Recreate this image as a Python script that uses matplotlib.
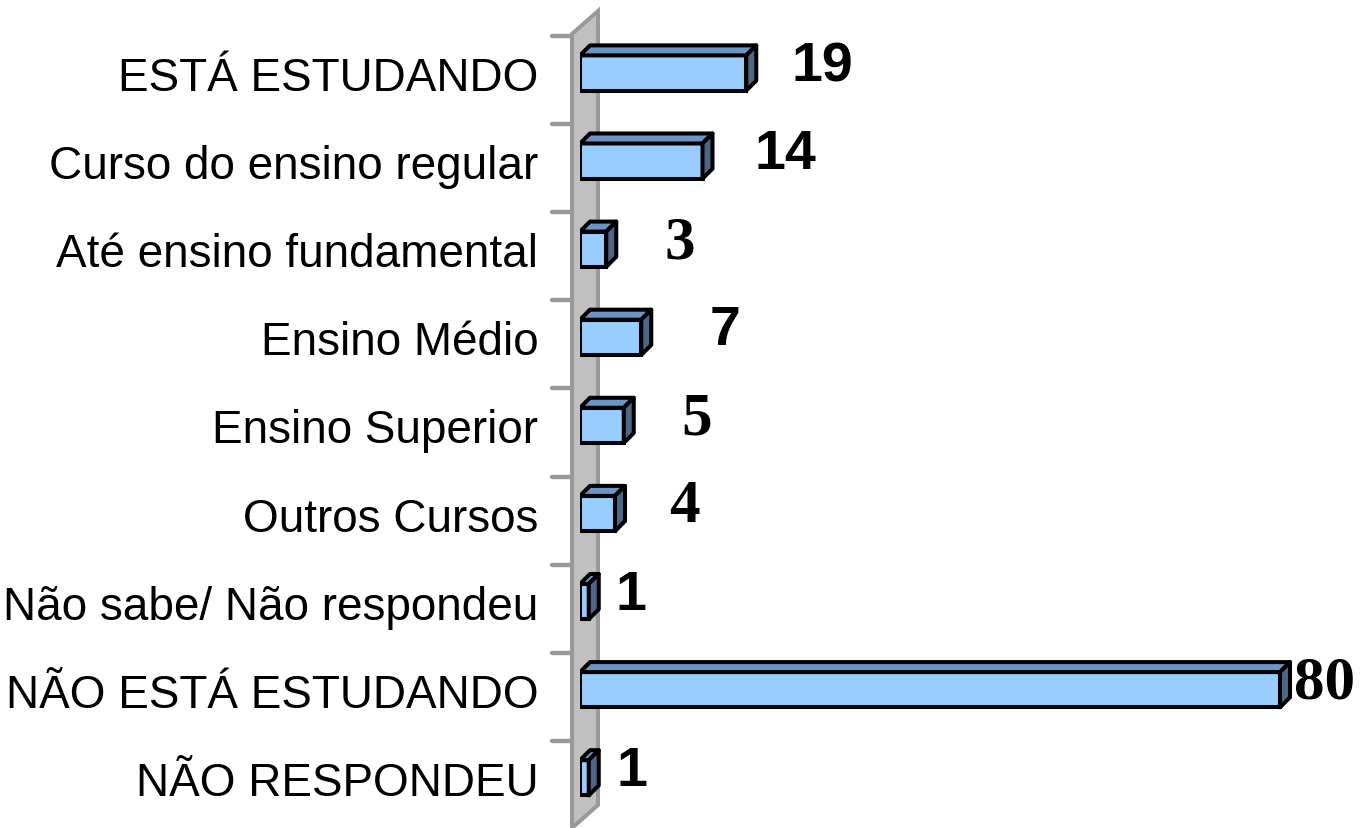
import matplotlib
matplotlib.use('Agg')
import matplotlib.pyplot as plt
from matplotlib.patches import Polygon

categories = ['ESTÁ ESTUDANDO', 'Curso do ensino regular', 'Até ensino fundamental',
              'Ensino Médio', 'Ensino Superior', 'Outros Cursos',
              'Não sabe/ Não respondeu', 'NÃO ESTÁ ESTUDANDO', 'NÃO RESPONDEU']
values = [19, 14, 3, 7, 5, 4, 1, 80, 1]

# label placement (pixels right of bar end) and font used for each value label
label_dx = [76, 83, 74, 84, 73, 69, 42, 45, 43]
label_font = ['Liberation Sans', 'Liberation Sans', 'Liberation Serif', 'Liberation Sans',
              'Liberation Serif', 'Liberation Serif', 'Liberation Sans', 'Liberation Serif',
              'Liberation Sans']

W, H = 1366, 829
fig = plt.figure(figsize=(W / 100, H / 100), dpi=100)
fig.patch.set_facecolor('white')

x0px = 580          # pixel where value 0 sits
ppu = 8.75          # pixels per unit on x
y0px, step = 74, 88.1
ax = fig.add_axes([x0px / W, 0, (W - x0px) / W, 1])
ax.set_xlim(0, (W - x0px) / ppu)
ax.set_ylim((H - y0px) / step, -y0px / step)

ux = 1 / ppu        # one pixel in data units
uy = 1 / step

front = '#99CCFF'
top_c = '#6B95C4'
side_c = '#4A6786'
edge = 'black'
lw = 2.9
h = 0.40
dx, dy = 10 * ux, 10 * uy

# gray wall
wall = Polygon([(-8 * ux, -39 * uy), (18 * ux, -62 * uy), (18 * ux, 732 * uy), (-8 * ux, 755 * uy)],
               closed=True, facecolor='#C0C0C0', edgecolor='#999999', lw=2.9,
               clip_on=False, zorder=1)
ax.add_patch(wall)

# category boundary ticks
for i in range(len(categories)):
    yb = i - 37 * uy
    ax.plot([-28 * ux, -8 * ux], [yb, yb], color='#999999', lw=3.2,
            clip_on=False, solid_capstyle='round', zorder=1)

ypos = list(range(len(categories)))
ax.barh(ypos, values, height=h, color=front, edgecolor=edge, linewidth=lw, zorder=3)
for y, v in zip(ypos, values):
    t = y - h / 2
    b = y + h / 2
    ax.add_patch(Polygon([(0, t), (v, t), (v + dx, t - dy), (dx, t - dy)], closed=True,
                         facecolor=top_c, edgecolor=edge, lw=lw, joinstyle='round', zorder=3))
    ax.add_patch(Polygon([(v, t), (v + dx, t - dy), (v + dx, b - dy), (v, b)], closed=True,
                         facecolor=side_c, edgecolor=edge, lw=lw, joinstyle='round', zorder=3))

for y, v, d, f in zip(ypos, values, label_dx, label_font):
    size = 44 if f == 'Liberation Serif' else 40
    ax.annotate(str(v), (v, y), xytext=(d * 0.72, 7 * 0.72), textcoords='offset points',
                ha='center', va='center', fontsize=size, fontweight='bold', family=f)

ax.set_yticks(ypos)
ax.set_yticklabels(categories, fontsize=33, family='Liberation Sans')
ax.tick_params(axis='y', length=0, pad=30)
ax.set_xticks([])
for s in ax.spines.values():
    s.set_visible(False)
ax.patch.set_alpha(0)

fig.savefig('out.png', dpi=100)
